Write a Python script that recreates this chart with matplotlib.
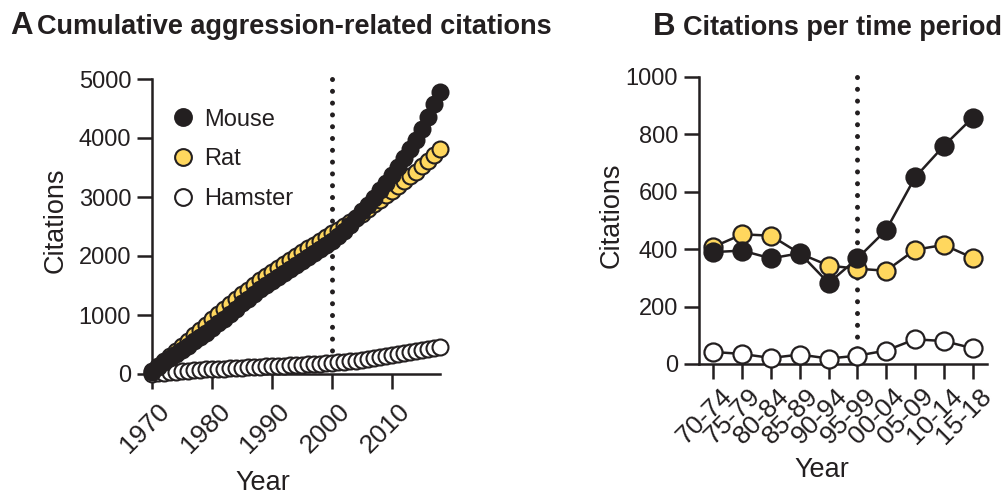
import matplotlib
matplotlib.use("Agg")
import matplotlib.pyplot as plt
import matplotlib.transforms as mtransforms

plt.rcParams['font.family'] = ['Liberation Sans', 'DejaVu Sans']

INK = '#231f20'
YELLOW = '#FFD75E'

# ---------------- Data ----------------
years = list(range(1970, 2019))
mouse_cum = [40, 118, 196, 272, 345, 410, 480, 552, 625, 700,
             780, 860, 940, 1020, 1100, 1200, 1278, 1356, 1434, 1510,
             1580, 1645, 1712, 1778, 1844, 1912, 1982, 2052, 2122, 2190,
             2260, 2340, 2430, 2530, 2640, 2755, 2870, 2990, 3115, 3240,
             3370, 3515, 3660, 3810, 3960, 4160, 4360, 4570, 4780]
rat_cum = [50, 130, 215, 300, 385, 475, 565, 655, 745, 835,
           925, 1012, 1100, 1188, 1275, 1352, 1430, 1508, 1585, 1660,
           1728, 1796, 1864, 1930, 1998, 2064, 2128, 2192, 2256, 2320,
           2385, 2448, 2512, 2576, 2640, 2718, 2796, 2875, 2953, 3030,
           3110, 3190, 3270, 3350, 3430, 3520, 3615, 3710, 3808]
hamster_cum = [5, 14, 23, 32, 42, 49, 56, 63, 70, 77,
               81, 85, 89, 94, 98, 105, 111, 118, 124, 131,
               135, 139, 142, 146, 150, 156, 162, 168, 173, 179,
               189, 198, 207, 217, 226, 243, 260, 277, 293, 310,
               326, 342, 357, 373, 388, 404, 420, 436, 452]

periods = ['70-74', '75-79', '80-84', '85-89', '90-94',
           '95-99', '00-04', '05-09', '10-14', '15-18']
mouse_per = [390, 395, 368, 386, 282, 368, 467, 650, 760, 858]
rat_per = [408, 452, 447, 385, 343, 332, 325, 398, 415, 370]
hamster_per = [42, 35, 21, 33, 19, 29, 47, 86, 80, 55]

series = [('Mouse', INK), ('Rat', YELLOW), ('Hamster', 'white')]

# ---------------- Figure ----------------
fig = plt.figure(figsize=(10.02, 4.96), dpi=100)
axA = fig.add_axes([152/1002, 1-374/496, 288/1002, 295/496])
axB = fig.add_axes([699/1002, 1-364/496, 288/1002, 287/496])

TICK_FS = 17
XTICK_FS = 19
LABEL_FS = 19.5


def style(ax):
    for s in ['top', 'right']:
        ax.spines[s].set_visible(False)
    for s in ['left', 'bottom']:
        ax.spines[s].set_linewidth(1.8)
        ax.spines[s].set_color(INK)
    ax.tick_params(direction='out', length=10.5, width=1.8, colors=INK,
                   labelsize=TICK_FS, labelcolor=INK)
    ax.tick_params(axis='y', pad=4.5)
    ax.tick_params(axis='x', labelsize=XTICK_FS)


def rotate_labels(ax, dx_pt):
    off = mtransforms.ScaledTranslation(dx_pt/72, 0, fig.dpi_scale_trans)
    for lab in ax.get_xticklabels():
        lab.set_rotation(45)
        lab.set_ha('right')
        lab.set_va('top')
        lab.set_rotation_mode('anchor')
        lab.set_transform(lab.get_transform() + off)


# ---- Panel A ----
style(axA)
cumA = {'Mouse': mouse_cum, 'Rat': rat_cum, 'Hamster': hamster_cum}
z = {'Mouse': 5, 'Rat': 4, 'Hamster': 3}
handles = []
for name, col in series:
    h, = axA.plot(years, cumA[name], 'o', ms=11.5, mfc=col, mec=INK,
                  mew=1.5, clip_on=False, zorder=z[name], label=name)
    handles.append(h)
axA.plot([2000, 2000], [5000, 0], color=INK, lw=3.6,
         linestyle=(0, (0.01, 2.35)), dash_capstyle='round', zorder=2,
         clip_on=False)
axA.set_xlim(1970, 2018)
axA.set_ylim(0, 5000)
axA.set_xticks([1970, 1980, 1990, 2000, 2010])
axA.set_yticks([0, 1000, 2000, 3000, 4000, 5000])
axA.tick_params(axis='x', pad=7.5)
rotate_labels(axA, 4)
axA.set_ylabel('Citations', fontsize=LABEL_FS, color=INK)
axA.set_xlabel('Year', fontsize=LABEL_FS, color=INK)
axA.yaxis.set_label_coords(-0.29, 0.52)
axA.xaxis.set_label_coords(0.385, -0.325)

leg = axA.legend(handles=handles, loc='upper left',
                 bbox_to_anchor=(0.066, 0.90), frameon=False,
                 fontsize=TICK_FS, numpoints=1, handlelength=1.0,
                 handletextpad=0.42, labelspacing=0.75, borderpad=0,
                 borderaxespad=0, markerscale=1.05)
for t in leg.get_texts():
    t.set_color(INK)

# ---- Panel B ----
style(axB)
xB = list(range(len(periods)))
perB = {'Mouse': mouse_per, 'Rat': rat_per, 'Hamster': hamster_per}
for name, col in series:
    axB.plot(xB, perB[name], '-o', color=INK, lw=1.8, ms=13, mfc=col,
             mec=INK, mew=1.6, clip_on=False, zorder=z[name])
axB.plot([5, 5], [1000, 0], color=INK, lw=3.6,
         linestyle=(0, (0.01, 2.35)), dash_capstyle='round', zorder=2,
         clip_on=False)
axB.set_xlim(-0.5, 9.5)
axB.set_ylim(0, 1000)
axB.set_yticks([0, 200, 400, 600, 800, 1000])
axB.set_xticks(xB)
axB.set_xticklabels(periods)
axB.tick_params(axis='x', pad=4.0)
rotate_labels(axB, 4.5)
axB.set_ylabel('Citations', fontsize=LABEL_FS, color=INK)
axB.set_xlabel('Year', fontsize=LABEL_FS, color=INK)
axB.yaxis.set_label_coords(-0.257, 0.52)
axB.xaxis.set_label_coords(0.427, -0.324)

# ---- Titles ----
fig.text(10/1002, 1-34/496, 'A', fontsize=22.5, fontweight='bold',
         color=INK, va='baseline', ha='left')
fig.text(37/1002, 1-34/496, 'Cumulative aggression-related citations',
         fontsize=19.5, fontweight='bold', color=INK, va='baseline', ha='left')
fig.text(653/1002, 1-35/496, 'B', fontsize=22.5, fontweight='bold',
         color=INK, va='baseline', ha='left')
fig.text(683/1002, 1-35/496, 'Citations per time period',
         fontsize=19.5, fontweight='bold', color=INK, va='baseline', ha='left')

fig.savefig('out.png', dpi=100)
